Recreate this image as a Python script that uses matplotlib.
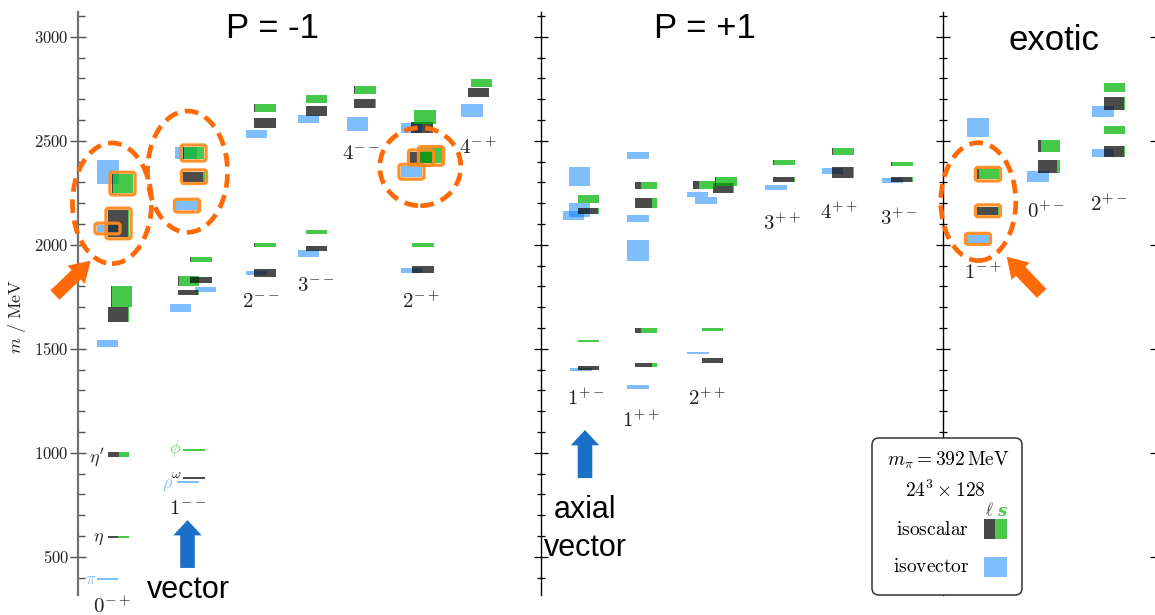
import matplotlib
matplotlib.use("Agg")
import matplotlib.pyplot as plt
from matplotlib.patches import Rectangle, FancyBboxPatch, Ellipse, FancyArrowPatch, ArrowStyle
from matplotlib.ticker import MultipleLocator, FuncFormatter

plt.rcParams['mathtext.fontset'] = 'cm'
plt.rcParams['font.family'] = ['DejaVu Serif']

# ---------------- data ----------------
jpc = ['0^{-+}', '1^{--}', '2^{--}', '3^{--}', '4^{--}', '2^{-+}', '4^{-+}',
       '1^{+-}', '1^{++}', '2^{++}', '3^{++}', '4^{++}', '3^{+-}',
       '1^{-+}', '0^{+-}', '2^{+-}']

# isovector states: column index, mass (MeV), half-height (MeV)
iv_col = [0, 0, 0, 0,
          1, 1, 1, 1, 1,
          2, 2,
          3, 3,
          4,
          5, 5, 5,
          6,
          7, 7, 7, 7,
          8, 8, 8, 8,
          9, 9, 9,
          10, 11, 12,
          13, 13,
          14,
          15, 15]
iv_mass = [391, 1525, 2078, 2350,
           859, 1696, 1783, 2188, 2441,
           1864, 2532,
           1958, 2604,
           2580,
           1875, 2351, 2561,
           2645,
           1399, 2140, 2167, 2328,
           1316, 1972, 2126, 2429,
           1479, 2212, 2241,
           2275, 2353, 2307,
           2028, 2563,
           2327,
           2439, 2641]
iv_err = [5, 17, 17, 58,
          5, 18, 12, 22, 30,
          10, 19,
          17, 19,
          34,
          12, 27, 26,
          32,
          6, 22, 34, 46,
          8, 50, 17, 17,
          5, 17, 14,
          12, 14, 12,
          18, 44,
          27,
          19, 26]

# isoscalar states: column index, mass (MeV), half-height (MeV), light-quark fraction
iso_col = [0, 0, 0, 0, 0, 0,
           1, 1, 1, 1, 1, 1, 1, 1,
           2, 2, 2, 2,
           3, 3, 3, 3,
           4, 4,
           5, 5, 5, 5, 5, 5,
           6, 6,
           7, 7, 7, 7,
           8, 8, 8, 8,
           9, 9, 9, 9, 9,
           10, 10, 11, 11, 12, 12,
           13, 13,
           14, 14,
           15, 15, 15, 15]
iso_mass = [593, 991, 1664, 1751, 2102, 2294,
            878, 1012, 1770, 1826, 1832, 1929, 2327, 2441,
            1864, 1997, 2585, 2657,
            1983, 2061, 2643, 2700,
            2679, 2744,
            1881, 1997, 2419, 2427, 2563, 2614,
            2732, 2776,
            1409, 1536, 2162, 2220,
            1422, 1588, 2200, 2285,
            1443, 1592, 2273, 2287, 2304,
            2315, 2395, 2347, 2447, 2313, 2389,
            2163, 2339,
            2377, 2475,
            2449, 2551, 2680, 2757]
iso_err = [5, 10, 36, 50, 65, 46,
           5, 5, 12, 23, 14, 10, 24, 30,
           19, 10, 24, 19,
           12, 10, 24, 19,
           22, 19,
           17, 10, 28, 36, 28, 34,
           20, 19,
           9, 5, 14, 19,
           10, 12, 24, 17,
           12, 7, 24, 19, 22,
           12, 12, 28, 16, 13, 10,
           20, 24,
           30, 28,
           26, 19, 32, 22]
iso_light = [0.48, 0.52, 0.95, 0.05, 0.95, 0.08,
             1.0, 0.0, 0.95, 0.05, 1.0, 0.02, 0.92, 0.08,
             1.0, 0.03, 1.0, 0.05,
             1.0, 0.0, 1.0, 0.0,
             0.97, 0.03,
             1.0, 0.0, 1.0, 0.0, 1.0, 0.0,
             0.97, 0.03,
             0.97, 0.0, 0.95, 0.03,
             0.77, 0.25, 0.77, 0.25,
             1.0, 0.0, 0.95, 0.27, 0.03,
             0.97, 0.03, 0.97, 0.03, 0.97, 0.03,
             0.95, 0.08,
             0.85, 0.15,
             0.95, 0.03, 0.95, 0.03]

# highlighted (candidate) states
iv_hl = [2078, 2188, 2351, 2028]
iso_hl = [2102, 2294, 2327, 2441, 2419, 2427, 2163, 2339]

# ---------------- layout (pixels) ----------------
W, H = 1155, 615
AX_TOP, AX_BOT = 12, 595
Y0, Y1 = 315.9, 3118.8
MEV_PER_PX = (Y1 - Y0) / (AX_BOT - AX_TOP)
panels = [(78, 541), (541, 943), (943, 1157)]
col_panel = [0] * 7 + [1] * 6 + [2] * 3
col_x = [118.5, 194, 265, 316.5, 365, 423, 479,
         588.5, 646, 712.5, 784, 843, 902,
         988, 1049, 1114.5]
iv_dx = [-11, -11, -11, -10.5,
         -6, -13.5, 11.5, -7, -8,
         -8.5, -8.5,
         -8, -8,
         -7.5,
         -11.5, -11.5, -11.5,
         -7,
         -7.5, -15, -9, -9,
         -8, -8, -8, -8,
         -14.5, -6.5, -15,
         -8, -10.5, -9.5,
         -10, -10,
         -11,
         -11.5, -11.5]
iso_dx = [0, 0, 0, 3, 0, 4,
          0, 0, -5.5, -5.5, 7, 7, 0, -0.5,
          0, 0, 0, 0,
          0, 0, 0, 0,
          0, 0,
          0, 0, -2, 8, -1, 2,
          -0.5, 2.5,
          0, 0, 0, 0,
          0, 0, 0, 0,
          0, 0, 11, -8.5, 13.5,
          0, 0, 0, 0, 0, 0,
          0, 0,
          0, 0,
          0, 0, 0, 0]
label_x = [111.5, 187.5, 261, 315.5, 361, 421, 477.5,
           585.5, 641, 706.5, 781.5, 839, 899,
           982.5, 1046, 1109]
label_y = [263, 732, 1727, 1806, 2438, 1727, 2467,
           1261, 1157, 1261, 2102, 2155, 2124,
           1866, 2160, 2193]
BW = 21.5

BLUE_C, BLUE_A = '#017dfb', 0.5
DARK_C, DARK_A = '#080808', 0.73
GREEN_C, GREEN_A = '#02b408', 0.73
ORANGE = '#ff8a1e'
ORANGE2 = '#ff6a06'
ARROW_BLUE = '#1b6fc6'

fig = plt.figure(figsize=(W / 100, H / 100), dpi=100)

axes = []
for i, (x0, x1) in enumerate(panels):
    ax = fig.add_axes([x0 / W, 1 - AX_BOT / H, (x1 - x0) / W, (AX_BOT - AX_TOP) / H])
    ax.set_xlim(x0, x1)
    ax.set_ylim(Y0, Y1)
    ax.patch.set_visible(False)
    for s in ['top', 'bottom', 'right']:
        ax.spines[s].set_visible(False)
    ax.set_xticks([])
    ax.yaxis.set_major_locator(MultipleLocator(500))
    ax.yaxis.set_minor_locator(MultipleLocator(100))
    if i == 0:
        ax.spines['left'].set_color('#707070')
        ax.spines['left'].set_linewidth(1.6)
        ax.yaxis.set_major_formatter(FuncFormatter(lambda v, p: r'$\mathrm{%d}$' % v))
        ax.tick_params(axis='y', which='major', direction='inout', length=11, width=1.0,
                       color='#555555', labelsize=12, labelcolor='#222222', pad=1)
        ax.tick_params(axis='y', which='minor', direction='in', length=5, width=1.0, color='#555555')
    else:
        ax.spines['left'].set_color('black')
        ax.spines['left'].set_linewidth(1.0)
        ax.tick_params(axis='y', which='major', direction='inout', length=10, width=0.9,
                       labelleft=False)
        ax.tick_params(axis='y', which='minor', direction='inout', length=6, width=0.9)
        if i == 2:
            ax.tick_params(axis='y', which='major', right=True)
            ax.tick_params(axis='y', which='minor', right=False)
    axes.append(ax)


def outline(ax, x0, m, e):
    ax.add_patch(FancyBboxPatch((x0, m - e), BW, 2 * e,
                                boxstyle='round,pad=1.8,rounding_size=2.5',
                                mutation_aspect=MEV_PER_PX, fc='none', ec=ORANGE,
                                lw=2.3, alpha=0.95, zorder=5, clip_on=False))


# isovector boxes
for c, m, e, dx in zip(iv_col, iv_mass, iv_err, iv_dx):
    ax = axes[col_panel[c]]
    x0 = col_x[c] + dx - BW / 2
    ax.add_patch(Rectangle((x0, m - e), BW, 2 * e, fc=BLUE_C, alpha=BLUE_A, lw=0, zorder=2,
                           clip_on=False))
    if m in iv_hl:
        outline(ax, x0, m, e)

# isoscalar boxes
for c, m, e, lf, dx in zip(iso_col, iso_mass, iso_err, iso_light, iso_dx):
    ax = axes[col_panel[c]]
    x0 = col_x[c] + dx - BW / 2
    if lf > 0:
        ax.add_patch(Rectangle((x0, m - e), BW * lf, 2 * e, fc=DARK_C, alpha=DARK_A, lw=0,
                               zorder=3, clip_on=False))
    if lf < 1:
        ax.add_patch(Rectangle((x0 + BW * lf, m - e), BW * (1 - lf), 2 * e, fc=GREEN_C,
                               alpha=GREEN_A, lw=0, zorder=3, clip_on=False))
    if m in iso_hl and (c in (0, 1, 5, 13)):
        outline(ax, x0, m, e)

# J^PC labels
for i, lab in enumerate(jpc):
    ax = axes[col_panel[i]]
    ax.text(label_x[i], label_y[i], '$' + lab + '$', ha='center', va='center',
            fontsize=15, color='#222222', clip_on=False, zorder=6)

# light meson names
a0 = axes[0]
a0.text(90.5, 391, r'$\pi$', color='#8cc3fb', fontsize=12, ha='center', va='center')
a0.text(99, 590, r'$\eta$', color='#222222', fontsize=13, ha='center', va='center')
a0.text(97, 975, r"$\eta'$", color='#222222', fontsize=13, ha='center', va='center')
a0.text(175, 1022, r'$\phi$', color='#6fd06f', fontsize=13, ha='center', va='center')
a0.text(176, 900, r'$\omega$', color='#222222', fontsize=10, ha='center', va='center')
a0.text(167.5, 850, r'$\rho$', color='#8cc3fb', fontsize=13, ha='center', va='center')

# dashed ellipses around candidate states
ell = [(0, 112, 2199, 79, 580), (0, 187.5, 2351, 80, 583),
       (0, 420.3, 2375, 81, 375), (2, 978.3, 2207, 75, 567)]
for p, cx, cy, w, h in ell:
    axes[p].add_patch(Ellipse((cx, cy), w, h, fill=False, ec=ORANGE2, lw=3.4,
                              ls=(0, (2.9, 1.6)), zorder=7, clip_on=False))

# arrows
def arrow(ax, p0, p1, color, hw, hl, tw):
    ax.add_patch(FancyArrowPatch(p0, p1, arrowstyle=ArrowStyle('simple', head_length=hl,
                                 head_width=hw, tail_width=tw), mutation_scale=1,
                                 fc=color, ec='none', shrinkA=0, shrinkB=0, zorder=8,
                                 clip_on=False))

arrow(axes[0], (55, 1758), (90.7, 1923), ORANGE2, 18, 14.5, 9.4)
arrow(axes[2], (1041.7, 1766), (1006.7, 1942), ORANGE2, 18, 14.5, 9.4)
arrow(axes[0], (187.5, 446), (187.5, 676), ARROW_BLUE, 20.5, 11, 10.5)
arrow(axes[1], (585, 878), (585, 1109), ARROW_BLUE, 20.5, 11, 10.5)

# overlay in pixel coordinates for titles and legend
ov = fig.add_axes([0, 0, 1, 1])
ov.set_xlim(0, W)
ov.set_ylim(H, 0)
ov.axis('off')
ov.patch.set_visible(False)

sans = 'Liberation Sans'
ov.text(273, 38, 'P = -1', fontsize=25, family=sans, ha='center', va='baseline')
ov.text(705, 38, 'P = +1', fontsize=25, family=sans, ha='center', va='baseline')
ov.text(1054, 50, 'exotic', fontsize=25, family=sans, ha='center', va='baseline')
ov.text(188.5, 598, 'vector', fontsize=22, family=sans, ha='center', va='baseline')
ov.text(585, 518, 'axial', fontsize=22, family=sans, ha='center', va='baseline')
ov.text(585.5, 556, 'vector', fontsize=22, family=sans, ha='center', va='baseline')

ov.text(17, 316, r'$m\ /\ \mathrm{MeV}$', fontsize=13, rotation=90, ha='center', va='center',
        color='#222222')

# legend box
ov.add_patch(FancyBboxPatch((872, 438), 150, 157, boxstyle='round,pad=0,rounding_size=7',
                            fc='white', ec='#333333', lw=1.1, zorder=10))
ov.text(948, 460, r'$m_\pi = 392\,\mathrm{MeV}$', fontsize=14, ha='center', va='center', zorder=11)
ov.text(945, 490, r'$24^3 \times 128$', fontsize=14, ha='center', va='center', zorder=11)
ov.text(989, 511, r'$\ell$', fontsize=12, color='#444444', ha='center', va='center', zorder=11)
ov.text(1001.5, 511, 's', fontsize=12, color='#4cc94c', family='DejaVu Serif',
        fontstyle='italic', fontweight='bold', ha='center', va='center', zorder=11)
ov.text(932.5, 530, r'$\mathrm{isoscalar}$', fontsize=14, ha='center', va='center', zorder=11)
ov.text(931, 567, r'$\mathrm{isovector}$', fontsize=14, ha='center', va='center', zorder=11)
ov.add_patch(Rectangle((984, 519), 11, 20, fc='#474747', lw=0, zorder=11))
ov.add_patch(Rectangle((995, 519), 12, 20, fc='#4cc94c', lw=0, zorder=11))
ov.add_patch(Rectangle((984, 557), 23, 20, fc='#80bdfc', lw=0, zorder=11))

fig.savefig('out.png', dpi=100)
